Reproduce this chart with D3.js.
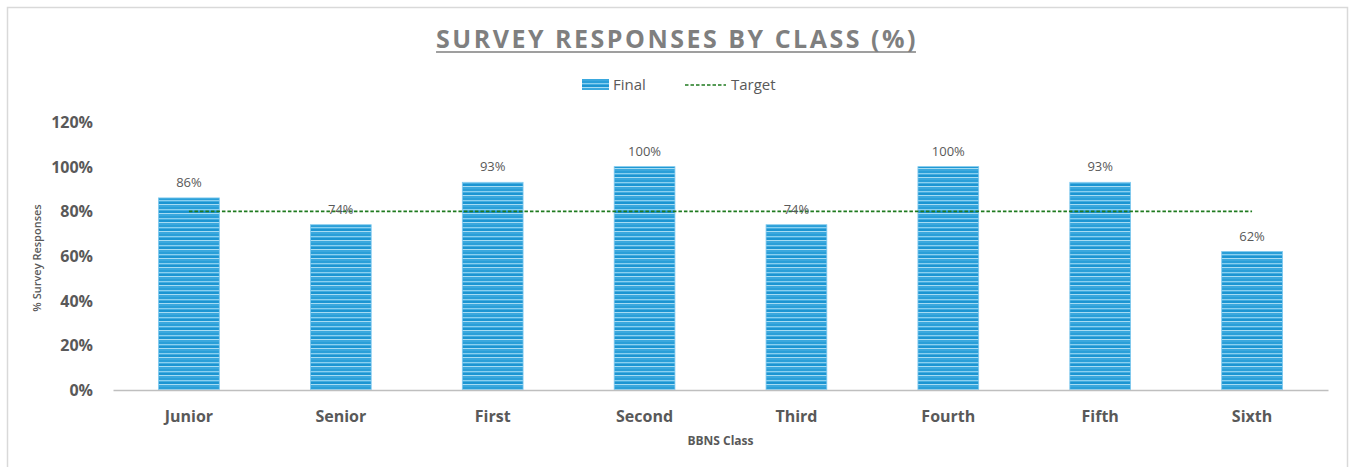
<!DOCTYPE html>
<html>
<head>
<meta charset="utf-8">
<script src="https://cdn.jsdelivr.net/npm/d3@7"></script>
<style>
  body { margin: 0; background: #fff; }
  text { font-family: "Open Sans", "Noto Sans", sans-serif; }
</style>
</head>
<body>
<div id="chart"></div>
<script>
const classes = ['Junior', 'Senior', 'First', 'Second', 'Third', 'Fourth', 'Fifth', 'Sixth'];
const finalValues = [0.86, 0.74, 0.93, 1.00, 0.74, 1.00, 0.93, 0.62];
const targetValue = 0.80;
const yTicks = [0, 0.2, 0.4, 0.6, 0.8, 1.0, 1.2];

const width = 1354, height = 467;
const margin = { left: 113, right: 26, top: 122, bottom: 77 };

const svg = d3.select('#chart').append('svg')
  .attr('width', width).attr('height', height);

// stripe pattern for the bars
const defs = svg.append('defs');
const pat = defs.append('pattern').attr('id', 'stripes')
  .attr('patternUnits', 'userSpaceOnUse').attr('width', 10).attr('height', 9);
const stripeRows = [
  ['#2a9fd8', 0, 2], ['#8ad0f0', 2, 1], ['#44ade0', 3, 1],
  ['#1c95d2', 4, 2], ['#a6dcf3', 6, 1], ['#3aa8de', 7, 2]
];
stripeRows.forEach(r => {
  pat.append('rect').attr('x', 0).attr('y', r[1]).attr('width', 10).attr('height', r[2]).attr('fill', r[0]);
});

// outer frame
svg.append('rect').attr('x', 7.5).attr('y', 7.5).attr('width', 1340).attr('height', 470)
  .attr('fill', 'none').attr('stroke', '#d9d9d9').attr('stroke-width', 1.5);

const x = d3.scaleBand().domain(classes)
  .range([margin.left, width - margin.right]).paddingInner(0.6).paddingOuter(0.3);
const y = d3.scaleLinear().domain([0, 1.2]).range([height - margin.bottom, margin.top]);

// title
const title = svg.append('text').attr('x', 677).attr('y', 48)
  .attr('text-anchor', 'middle').attr('fill', '#7f7f7f')
  .style('font-size', '25px').style('font-weight', 'bold').style('letter-spacing', '2.5px')
  .text('SURVEY RESPONSES BY CLASS (%)');
const tb = title.node().getBBox();
svg.append('line').attr('x1', tb.x).attr('x2', tb.x + tb.width - 2)
  .attr('y1', 52).attr('y2', 52).attr('stroke', '#7f7f7f').attr('stroke-width', 1.5);

// legend
svg.append('rect').attr('x', 582).attr('y', 79).attr('width', 27).attr('height', 11).attr('fill', 'url(#stripes)');
svg.append('text').attr('x', 613).attr('y', 90).attr('fill', '#595959')
  .style('font-size', '15px').text('Final');
svg.append('line').attr('x1', 685).attr('x2', 726).attr('y1', 85).attr('y2', 85)
  .attr('stroke', '#1f7a1f').attr('stroke-width', 1.6).attr('stroke-dasharray', '3.5,2');
svg.append('text').attr('x', 731).attr('y', 90).attr('fill', '#595959')
  .style('font-size', '15px').text('Target');

// y axis labels
const yAxis = svg.append('g').attr('transform', `translate(${margin.left - 17},0)`)
  .call(d3.axisLeft(y).tickValues(yTicks).tickFormat(d3.format('.0%')).tickSize(0));
yAxis.select('.domain').remove();
yAxis.selectAll('text').attr('fill', '#595959').attr('dy', '0.35em')
  .style('font-size', '16px').style('font-weight', 'bold')
  .style('font-family', '"Open Sans", sans-serif');

svg.append('text').attr('transform', `translate(41,${(y(0) + y(1.2)) / 2 + 2}) rotate(-90)`)
  .attr('text-anchor', 'middle').attr('fill', '#595959')
  .style('font-size', '11px').style('font-weight', '600').text('% Survey Responses');

// bars
svg.append('g').selectAll('rect').data(classes).join('rect')
  .attr('x', d => x(d)).attr('width', x.bandwidth())
  .attr('y', (d, i) => y(finalValues[i]))
  .attr('height', (d, i) => y(0) - y(finalValues[i]))
  .attr('fill', 'url(#stripes)')
  .attr('stroke', '#7cc8ee').attr('stroke-width', 0.8);

// x axis
const xAxis = svg.append('g').attr('transform', `translate(0,${y(0)})`)
  .call(d3.axisBottom(x).tickSize(0));
xAxis.select('.domain').attr('stroke', '#bfbfbf').attr('stroke-width', 1.5);
xAxis.selectAll('text').attr('fill', '#595959').attr('dy', '1.8em')
  .style('font-size', '16px').style('font-weight', 'bold')
  .style('font-family', '"Open Sans", sans-serif');

svg.append('text').attr('x', (margin.left + width - margin.right) / 2).attr('y', 445)
  .attr('text-anchor', 'middle').attr('fill', '#595959')
  .style('font-size', '12px').style('font-weight', 'bold').text('BBNS Class');

// target line
svg.append('line')
  .attr('x1', x(classes[0]) + x.bandwidth() / 2)
  .attr('x2', x(classes[classes.length - 1]) + x.bandwidth() / 2)
  .attr('y1', y(targetValue)).attr('y2', y(targetValue))
  .attr('stroke', '#1f7a1f').attr('stroke-width', 1.6).attr('stroke-dasharray', '3.5,2');

// data labels
svg.append('g').selectAll('text').data(classes).join('text')
  .attr('x', d => x(d) + x.bandwidth() / 2)
  .attr('y', (d, i) => y(finalValues[i]) - 11)
  .attr('text-anchor', 'middle').attr('fill', '#595959')
  .style('font-size', '13px')
  .text((d, i) => d3.format('.0%')(finalValues[i]));
</script>
</body>
</html>
